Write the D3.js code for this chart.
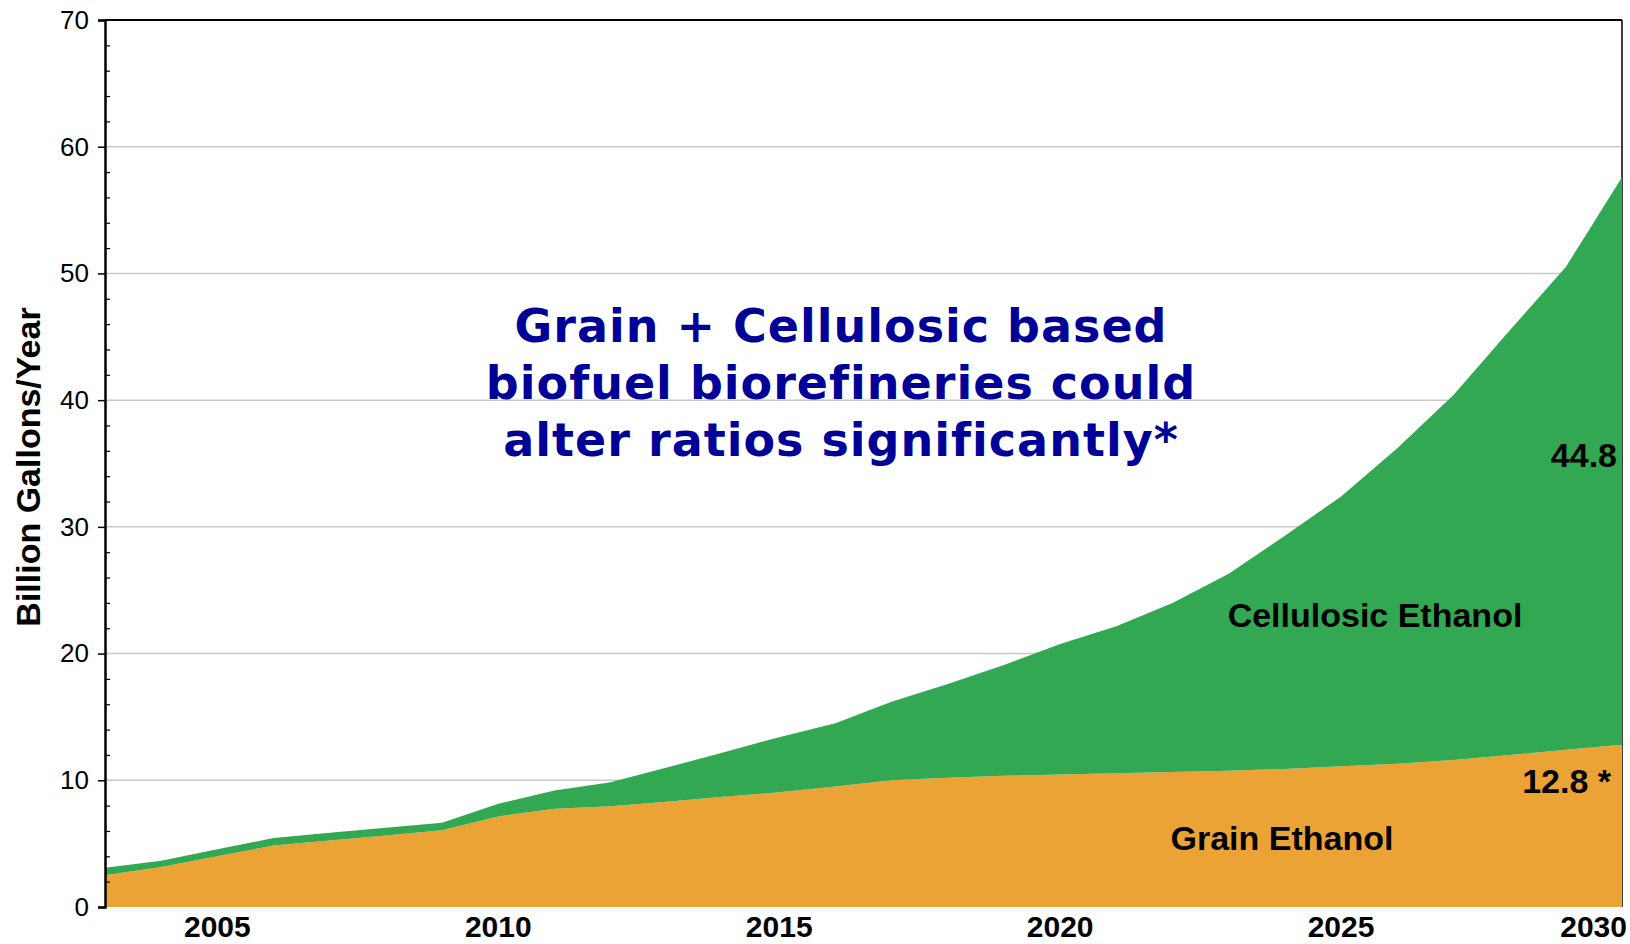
<!DOCTYPE html>
<html lang="en">
<head>
  <meta charset="UTF-8">
  <title>Grain + Cellulosic Ethanol</title>
  <style>
    body { margin: 0; background: #fff; }
    svg { display: block; }
    .tick-label { font-family: "Liberation Sans", Arial, sans-serif; font-size: 26px; fill: #000; }
    .year-label { font-family: "Liberation Sans", Arial, sans-serif; font-size: 30px; font-weight: bold; fill: #000; }
    .area-label { font-family: "Liberation Sans", Arial, sans-serif; font-size: 34px; font-weight: bold; fill: #000; }
    .note { font-family: "DejaVu Sans", Verdana, sans-serif; font-size: 46px; font-weight: bold; fill: #000099; letter-spacing: 1px; }
  </style>
</head>
<body>
  <svg id="chart" width="1630" height="944"></svg>
  <script src="https://d3js.org/d3.v7.min.js"></script>
  <script>
    // data (billion gallons / year)
    const years = [2003, 2004, 2005, 2006, 2007, 2008, 2009, 2010, 2011, 2012, 2013, 2014, 2015, 2016,
                   2017, 2018, 2019, 2020, 2021, 2022, 2023, 2024, 2025, 2026, 2027, 2028, 2029, 2030];
    const grain = [2.5, 3.15, 4.0, 4.85, 5.25, 5.65, 6.05, 7.15, 7.75, 7.95, 8.3, 8.7, 9.05, 9.5,
                   10.0, 10.2, 10.35, 10.45, 10.55, 10.65, 10.75, 10.9, 11.1, 11.3, 11.6, 12.0, 12.4, 12.8];
    const cellulosic = [0.6, 0.5, 0.55, 0.6, 0.6, 0.6, 0.6, 1.0, 1.45, 1.9, 2.7, 3.5, 4.35, 5.0,
                        6.2, 7.4, 8.75, 10.3, 11.6, 13.35, 15.55, 18.4, 21.3, 24.9, 28.8, 33.5, 38.1, 44.8];
    const yTicks = [0, 10, 20, 30, 40, 50, 60, 70];
    const yMinor = [2, 4, 6, 8, 12, 14, 16, 18, 22, 24, 26, 28, 32, 34, 36, 38, 42, 44, 46, 48, 52, 54, 56, 58, 62, 64, 66, 68];
    const xTicks = [2005, 2010, 2015, 2020, 2025, 2030];
    const noteLines = ["Grain + Cellulosic based", "biofuel biorefineries could", "alter ratios significantly*"];

    const colors = { grain: "#eca336", cellulosic: "#32a852" };

    const margin = { top: 20, right: 8, bottom: 37, left: 105 };
    const W = 1630, H = 944;
    const svg = d3.select("#chart");

    const x = d3.scaleLinear().domain([2003, 2030]).range([margin.left, W - margin.right]);
    const y = d3.scaleLinear().domain([0, 70]).range([H - margin.bottom, margin.top]);

    const rows = years.map((yr, i) => ({ year: yr, grain: grain[i], cellulosic: cellulosic[i] }));
    const stacked = d3.stack().keys(["grain", "cellulosic"])(rows);

    // gridlines
    svg.append("g")
      .selectAll("line")
      .data(yTicks.filter(t => t > 0 && t < 70))
      .join("line")
      .attr("x1", x(2003)).attr("x2", x(2030))
      .attr("y1", d => y(d)).attr("y2", d => y(d))
      .attr("stroke", "#c8c8c8")
      .attr("stroke-width", 1.5);

    // right border (sits behind the areas)
    svg.append("line")
      .attr("x1", x(2030)).attr("x2", x(2030))
      .attr("y1", y(70)).attr("y2", y(0))
      .attr("stroke", "#000").attr("stroke-width", 1.5);

    const area = d3.area()
      .x(d => x(d.data.year))
      .y0(d => y(d[0]))
      .y1(d => y(d[1]));

    svg.append("g")
      .selectAll("path")
      .data(stacked)
      .join("path")
      .attr("fill", d => colors[d.key])
      .attr("d", area);

    // top border
    svg.append("line")
      .attr("x1", x(2003)).attr("x2", x(2030))
      .attr("y1", y(70)).attr("y2", y(70))
      .attr("stroke", "#000").attr("stroke-width", 2);

    // y axis: major ticks outside, minor ticks inside
    const yAxis = svg.append("g")
      .attr("transform", `translate(${x(2003)},0)`)
      .call(d3.axisLeft(y).tickValues(yTicks).tickSize(7).tickPadding(9));
    yAxis.select(".domain").attr("stroke-width", 2.5);
    yAxis.selectAll(".tick line").attr("stroke-width", 1.5);
    yAxis.selectAll(".tick text").attr("class", "tick-label").attr("font-size", null).attr("font-family", null);

    svg.append("g")
      .attr("transform", `translate(${x(2003)},0)`)
      .call(d3.axisRight(y).tickValues(yMinor).tickSize(5).tickFormat(""))
      .call(g => g.select(".domain").remove())
      .selectAll(".tick line").attr("stroke-width", 1.2);

    // x labels
    svg.append("g")
      .selectAll("text")
      .data(xTicks)
      .join("text")
      .attr("class", "year-label")
      .attr("x", (d, i) => i === xTicks.length - 1 ? x(d) + 5 : x(d))
      .attr("y", 937)
      .attr("text-anchor", (d, i) => i === xTicks.length - 1 ? "end" : "middle")
      .text(d => d);

    // y title
    svg.append("text")
      .attr("class", "area-label")
      .attr("transform", "translate(40,467) rotate(-90)")
      .attr("text-anchor", "middle")
      .text("Billion Gallons/Year");

    // annotation
    svg.append("g")
      .selectAll("text")
      .data(noteLines)
      .join("text")
      .attr("class", "note")
      .attr("x", 841)
      .attr("y", (d, i) => 342 + i * 57)
      .attr("text-anchor", "middle")
      .text(d => d);

    // area labels
    const last = years.length - 1;
    svg.append("text").attr("class", "area-label")
      .attr("x", 1375).attr("y", 627).attr("text-anchor", "middle")
      .text("Cellulosic Ethanol");
    svg.append("text").attr("class", "area-label")
      .attr("x", 1282).attr("y", 850).attr("text-anchor", "middle")
      .text("Grain Ethanol");
    svg.append("text").attr("class", "area-label")
      .attr("x", 1617).attr("y", 467).attr("text-anchor", "end")
      .text(cellulosic[last].toFixed(1));
    svg.append("text").attr("class", "area-label")
      .attr("x", 1611).attr("y", 793).attr("text-anchor", "end")
      .text(grain[last].toFixed(1) + " *");
  </script>
</body>
</html>
